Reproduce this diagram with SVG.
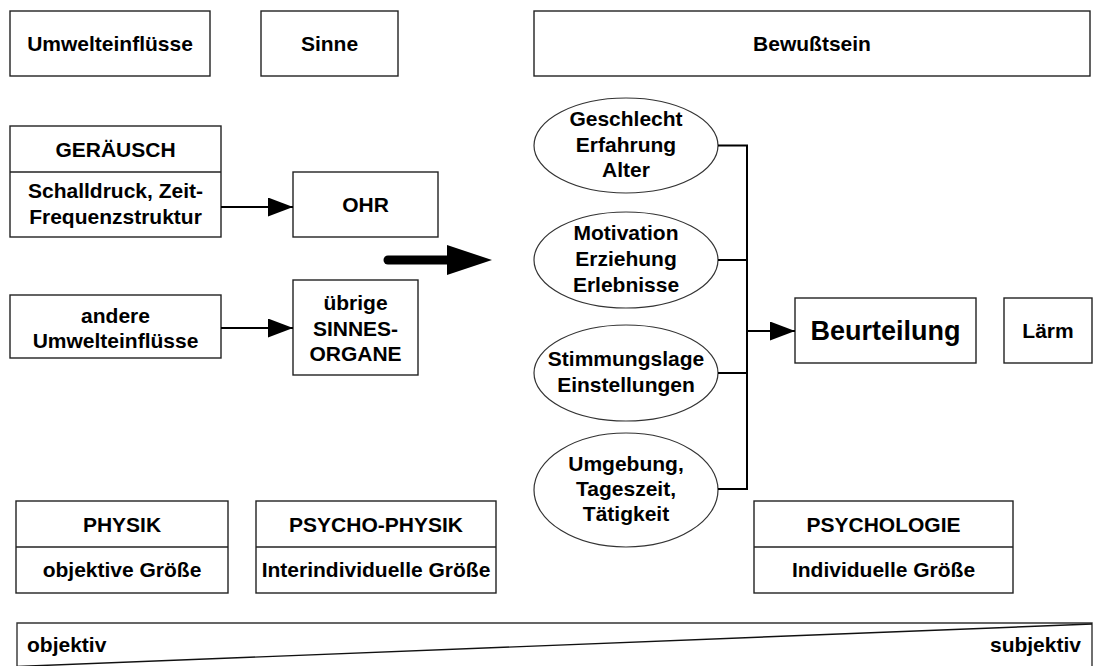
<svg xmlns="http://www.w3.org/2000/svg" width="1099" height="666" viewBox="0 0 1099 666">
<defs>
<style>
.box{fill:#fff;stroke:#222;stroke-width:1.4}
.ell{fill:#fff;stroke:#333;stroke-width:1.2}
.t{font-family:"Liberation Sans",Arial,sans-serif;font-weight:bold;font-size:21px;fill:#000;text-anchor:middle}
.big{font-size:27px}
.con{stroke:#000;stroke-width:2;fill:none}
</style>
<marker id="ah" markerUnits="userSpaceOnUse" markerWidth="26" markerHeight="20" refX="25" refY="9.5" orient="auto">
<path d="M0,0 L25,9.5 L0,19 z" fill="#000"/>
</marker>
</defs>
<rect width="1099" height="666" fill="#fff"/>

<g id="umwelteinfluesse"><rect class="box" x="10" y="11" width="200" height="65"/><text class="t" x="110" y="51">Umwelteinflüsse</text></g>
<g id="sinne"><rect class="box" x="261" y="11" width="137" height="65"/><text class="t" x="329.5" y="51">Sinne</text></g>
<g id="bewusstsein"><rect class="box" x="534" y="11" width="556" height="65"/><text class="t" x="812" y="51">Bewußtsein</text></g>

<g id="geraeusch"><rect class="box" x="10" y="126" width="211" height="111"/><line class="box" x1="10" y1="172" x2="221" y2="172"/>
<text class="t" x="115.5" y="156.5">GERÄUSCH</text>
<text class="t" x="115.5" y="198">Schalldruck, Zeit-</text>
<text class="t" x="115.5" y="224">Frequenzstruktur</text></g>

<g id="ohr"><rect class="box" x="293" y="172" width="145" height="65"/><text class="t" x="365.5" y="212">OHR</text></g>

<g id="andere"><rect class="box" x="10" y="295" width="211" height="63"/>
<text class="t" x="115.5" y="323">andere</text><text class="t" x="115.5" y="348">Umwelteinflüsse</text></g>

<g id="uebrige"><rect class="box" x="293" y="280" width="125" height="95"/>
<text class="t" x="355.5" y="310">übrige</text><text class="t" x="355.5" y="336">SINNES-</text><text class="t" x="355.5" y="361">ORGANE</text></g>

<g id="e1"><ellipse class="ell" cx="626" cy="145.5" rx="92" ry="47.5"/>
<text class="t" x="626" y="126">Geschlecht</text><text class="t" x="626" y="152">Erfahrung</text><text class="t" x="626" y="177">Alter</text></g>
<g id="e2"><ellipse class="ell" cx="626" cy="260" rx="92" ry="48"/>
<text class="t" x="626" y="240">Motivation</text><text class="t" x="626" y="266">Erziehung</text><text class="t" x="626" y="292">Erlebnisse</text></g>
<g id="e3"><ellipse class="ell" cx="626" cy="373" rx="92" ry="48"/>
<text class="t" x="626" y="366">Stimmungslage</text><text class="t" x="626" y="392">Einstellungen</text></g>
<g id="e4"><ellipse class="ell" cx="626" cy="490" rx="92" ry="57"/>
<text class="t" x="626" y="471">Umgebung,</text><text class="t" x="626" y="496">Tageszeit,</text><text class="t" x="626" y="521">Tätigkeit</text></g>

<g id="beurteilung"><rect class="box" x="795" y="298" width="181" height="65"/><text class="t big" x="885.5" y="340">Beurteilung</text></g>
<g id="laerm"><rect class="box" x="1004" y="298" width="88" height="65"/><text class="t" x="1048" y="338">Lärm</text></g>

<g id="physik"><rect class="box" x="16" y="501" width="212" height="92"/><line class="box" x1="16" y1="547" x2="228" y2="547"/>
<text class="t" x="122" y="532">PHYSIK</text><text class="t" x="122" y="577">objektive Größe</text></g>
<g id="psychophysik"><rect class="box" x="256" y="501" width="240" height="92"/><line class="box" x1="256" y1="547" x2="496" y2="547"/>
<text class="t" x="376" y="532">PSYCHO-PHYSIK</text><text class="t" x="376" y="577">Interindividuelle Größe</text></g>
<g id="psychologie"><rect class="box" x="754" y="501" width="259" height="92"/><line class="box" x1="754" y1="547" x2="1013" y2="547"/>
<text class="t" x="883.5" y="532">PSYCHOLOGIE</text><text class="t" x="883.5" y="577">Individuelle Größe</text></g>

<g id="scale">
<path d="M17,667 L17,623 L1092,623 L1092,667" fill="none" stroke="#333" stroke-width="1.4"/>
<line x1="17" y1="666.5" x2="1092" y2="624" stroke="#111" stroke-width="1.4"/>
<text class="t" x="27" y="652" style="text-anchor:start">objektiv</text>
<text class="t" x="1081" y="652" style="text-anchor:end">subjektiv</text>
</g>

<g id="connectors">
<line class="con" x1="221" y1="207" x2="293" y2="207" marker-end="url(#ah)"/>
<line class="con" x1="221" y1="328" x2="293" y2="328" marker-end="url(#ah)"/>
<line x1="388" y1="260" x2="450" y2="260" stroke="#000" stroke-width="9" stroke-linecap="round"/>
<polygon points="447,245 492,260 447,275" fill="#000"/>
<polyline class="con" points="718,145.5 747,145.5 747,489 718,489"/>
<line class="con" x1="718" y1="260" x2="747" y2="260"/>
<line class="con" x1="718" y1="373" x2="747" y2="373"/>
<line class="con" x1="747" y1="331" x2="795" y2="331" marker-end="url(#ah)"/>
</g>
</svg>
